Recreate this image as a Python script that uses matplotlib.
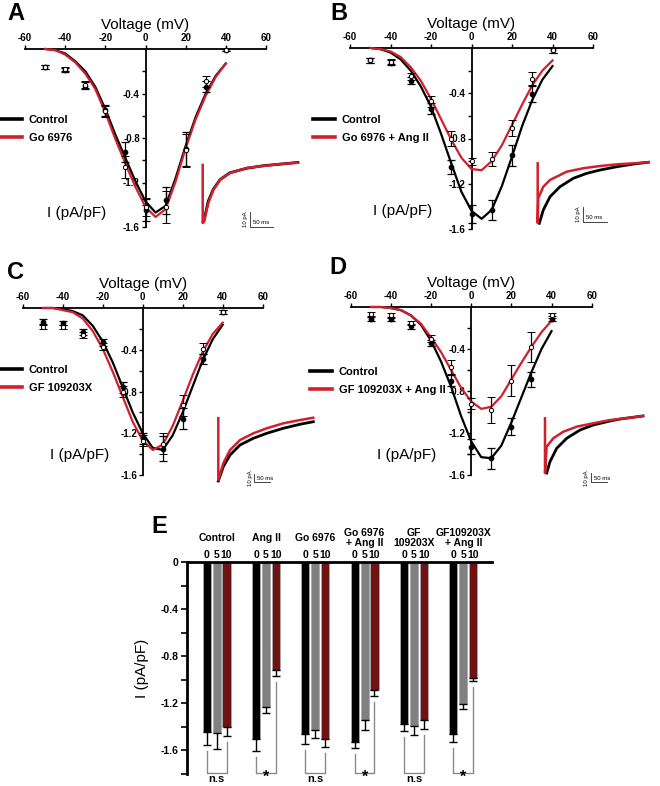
import matplotlib
matplotlib.use('Agg')
import matplotlib.pyplot as plt

plt.rcParams['font.family'] = ['Liberation Sans', 'DejaVu Sans']

# ---------------- data ----------------
V = [-50, -40, -30, -20, -10, 0, 10, 20, 30, 40]
VFIT = [-50, -45, -40, -35, -30, -25, -20, -15, -10, -5, 0, 5, 10, 15, 20, 25, 30, 35, 40]

# Panel A: Control vs Go 6976
A_ctrl = [-0.16, -0.19, -0.33, -0.55, -0.93, -1.45, -1.36, -0.90, -0.34, -0.01]
A_ctrl_err = [0.02, 0.02, 0.03, 0.05, 0.09, 0.10, 0.12, 0.15, 0.05, 0.01]
A_trt = [-0.16, -0.18, -0.32, -0.56, -1.06, -1.42, -1.42, -0.91, -0.29, -0.01]
A_trt_err = [0.02, 0.02, 0.03, 0.05, 0.10, 0.08, 0.14, 0.15, 0.05, 0.01]
A_fit_ctrl = [0.0, -0.01, -0.04, -0.11, -0.20, -0.34, -0.54, -0.77, -0.98, -1.19, -1.37, -1.47, -1.41, -1.16, -0.87, -0.61, -0.40, -0.24, -0.13]
A_fit_trt = [0.0, -0.01, -0.05, -0.12, -0.22, -0.36, -0.57, -0.81, -1.03, -1.24, -1.42, -1.51, -1.44, -1.19, -0.89, -0.63, -0.42, -0.25, -0.13]

# Panel B: Control vs Go 6976 + Ang II
B_ctrl = [-0.11, -0.13, -0.29, -0.535, -1.05, -1.47, -1.43, -0.95, -0.41, -0.02]
B_ctrl_err = [0.02, 0.02, 0.03, 0.05, 0.06, 0.08, 0.09, 0.09, 0.07, 0.02]
B_trt = [-0.11, -0.12, -0.25, -0.47, -0.80, -1.00, -0.98, -0.71, -0.27, -0.02]
B_trt_err = [0.02, 0.02, 0.03, 0.05, 0.07, 0.03, 0.065, 0.07, 0.06, 0.02]
B_fit_ctrl = [0.0, -0.01, -0.04, -0.10, -0.20, -0.34, -0.52, -0.76, -1.02, -1.27, -1.44, -1.51, -1.43, -1.22, -0.96, -0.69, -0.46, -0.28, -0.16]
B_fit_trt = [0.0, -0.01, -0.03, -0.08, -0.17, -0.29, -0.45, -0.63, -0.81, -0.97, -1.07, -1.08, -1.00, -0.86, -0.68, -0.50, -0.33, -0.20, -0.11]

# Panel C: Control vs GF 109203X
C_ctrl = [-0.13, -0.145, -0.23, -0.33, -0.76, -1.25, -1.35, -1.06, -0.49, -0.04]
C_ctrl_err = [0.02, 0.02, 0.03, 0.03, 0.05, 0.05, 0.12, 0.10, 0.05, 0.02]
C_trt = [-0.18, -0.18, -0.26, -0.37, -0.80, -1.27, -1.30, -0.93, -0.39, -0.04]
C_trt_err = [0.02, 0.02, 0.03, 0.03, 0.05, 0.05, 0.10, 0.10, 0.05, 0.02]
C_fit_ctrl = [0.0, 0.0, -0.01, -0.03, -0.07, -0.17, -0.32, -0.52, -0.76, -1.00, -1.20, -1.34, -1.36, -1.22, -1.00, -0.75, -0.50, -0.30, -0.16]
C_fit_trt = [0.0, 0.0, -0.02, -0.04, -0.10, -0.22, -0.39, -0.61, -0.85, -1.09, -1.27, -1.36, -1.31, -1.13, -0.89, -0.64, -0.42, -0.25, -0.14]

# Panel D: Control vs GF 109203X + Ang II
D_ctrl = [-0.115, -0.115, -0.185, -0.345, -0.70, -1.33, -1.44, -1.14, -0.69, -0.11]
D_ctrl_err = [0.02, 0.02, 0.02, 0.03, 0.05, 0.07, 0.10, 0.08, 0.07, 0.02]
D_trt = [-0.07, -0.08, -0.15, -0.30, -0.57, -0.92, -0.98, -0.70, -0.38, -0.08]
D_trt_err = [0.02, 0.02, 0.02, 0.03, 0.07, 0.05, 0.12, 0.15, 0.14, 0.02]
D_fit_ctrl = [0.0, 0.0, -0.01, -0.03, -0.08, -0.17, -0.32, -0.52, -0.76, -1.04, -1.28, -1.43, -1.44, -1.32, -1.10, -0.86, -0.62, -0.40, -0.23]
D_fit_trt = [0.0, 0.0, -0.01, -0.03, -0.08, -0.16, -0.29, -0.43, -0.60, -0.77, -0.90, -0.97, -0.95, -0.85, -0.69, -0.53, -0.38, -0.24, -0.13]

# Inset current traces (time ms, current pA)
A_tr_t_ctrl = [1, 3, 12, 23, 38, 59, 96, 132, 168, 207]
A_tr_i_ctrl = [-41, -40, -27.5, -19.5, -13, -8.5, -5.5, -3.8, -2.8, -1.6]
A_tr_t_trt = [0, 0, 2.8, 12.2, 23.0, 37.6, 59.3, 95.7, 131.7, 168.0, 207.2]
A_tr_i_trt = [-3.3, -42.0, -41.3, -28.7, -20.0, -13.3, -8.7, -5.3, -4.0, -2.7, -1.8]

B_tr_t_ctrl = [3.3, 11.7, 25.6, 46.5, 74.2, 102.1, 129.8, 164.6, 199.2, 230.4]
B_tr_i_ctrl = [-42.2, -33.3, -24.5, -17.8, -12.2, -8.9, -6.7, -4.5, -2.7, -1.5]
B_tr_t_trt = [0, 0, 1.3, 11.7, 25.6, 60.4, 95.0, 129.8, 164.6, 199.2, 230.4]
B_tr_i_trt = [-2.2, -42.0, -25.3, -17.8, -13.3, -7.8, -5.5, -4.0, -2.9, -2.2, -1.5]

C_tr_t_ctrl = [0, 15.6, 36.6, 67.8, 109.4, 151.3, 203.1, 255.3, 296.9]
C_tr_i_ctrl = [-85, -67.1, -52.5, -40, -31.6, -25.4, -19.1, -14.1, -10.9]
C_tr_t_trt = [0, 0, 15.6, 36.6, 67.8, 109.4, 151.3, 203.1, 255.3, 296.9]
C_tr_i_trt = [-6.6, -83.8, -62.9, -46.3, -33.8, -25.4, -19.1, -12.9, -8.8, -5.9]

D_tr_t_ctrl = [5.3, 15.6, 36.6, 67.8, 109.4, 150.9, 203.1, 234.4, 306.3]
D_tr_i_ctrl = [-66.7, -54.1, -39.2, -28.1, -18.9, -13.3, -8.9, -6.7, -3.3]
D_tr_t_trt = [0, 0, 5.3, 25.9, 57.2, 99.1, 150.9, 203.1, 234.4, 306.3]
D_tr_i_trt = [-5.9, -66.7, -37.4, -28.1, -20.8, -15.2, -11.4, -7.8, -6.7, -3.3]

# Panel E: bar chart
E_groups = ['Control', 'Ang II', 'Go 6976', 'Go 6976\n+ Ang II', 'GF\n109203X', 'GF109203X\n+ Ang II']
E_times = ['0', '5', '10']
E_t0 = [-1.444, -1.50, -1.464, -1.529, -1.379, -1.464]
E_t0_err = [0.108, 0.108, 0.079, 0.054, 0.060, 0.062]
E_t5 = [-1.45, -1.231, -1.43, -1.339, -1.393, -1.203]
E_t5_err = [0.14, 0.051, 0.068, 0.085, 0.079, 0.048]
E_t10 = [-1.40, -0.913, -1.50, -1.089, -1.339, -0.981]
E_t10_err = [0.077, 0.054, 0.070, 0.051, 0.077, 0.032]
E_sig = ['n.s', '*', 'n.s', '*', 'n.s', '*']

# ---------------- drawing ----------------
W, H = 660, 786
fig = plt.figure(figsize=(W / 100, H / 100), dpi=100)
RED = '#d0202e'
BOLD = dict(fontweight='bold')


def rect(l, t, r, b):
    return [l / W, 1 - b / H, (r - l) / W, (b - t) / H]


def noclip(container):
    for a in container.get_children():
        a.set_clip_on(False)


def iv_panel(box, ctrl, ctrl_err, trt, trt_err, fit_c, fit_t, labels, leg_xy, ylab_xy):
    ax = fig.add_axes(rect(*box))
    ax.patch.set_alpha(0)
    ax.set_xlim(-60, 60)
    ax.set_ylim(-1.6, 0)
    l1, = ax.plot(VFIT, fit_c, color='k', lw=1.6, zorder=3, clip_on=False)
    l2, = ax.plot(VFIT, fit_t, color=RED, lw=1.6, zorder=3, clip_on=False)
    e1 = ax.errorbar(V, ctrl, yerr=ctrl_err, fmt='o', ms=3.1, mfc='k', mec='k',
                     ecolor='k', elinewidth=0.9, capsize=2.6, capthick=0.9, zorder=4)
    e2 = ax.errorbar(V, trt, yerr=trt_err, fmt='o', ms=3.1, mfc='white', mec='k', mew=0.7,
                     ecolor='k', elinewidth=0.9, capsize=2.6, capthick=0.9, zorder=5)
    noclip(e1)
    noclip(e2)
    for s in ['bottom', 'right']:
        ax.spines[s].set_visible(False)
    ax.spines['left'].set_position(('data', 0))
    ax.spines['left'].set_linewidth(1.3)
    ax.spines['top'].set_linewidth(1.3)
    ax.xaxis.tick_top()
    ax.xaxis.set_label_position('top')
    xt = [-60, -40, -20, 0, 20, 40, 60]
    ax.set_xticks(xt)
    ax.set_xticklabels([str(v) for v in xt], fontsize=7, **BOLD)
    ax.set_yticks([-1.6, -1.2, -0.8, -0.4])
    ax.set_yticklabels(['-1.6', '-1.2', '-0.8', '-0.4'], fontsize=7, **BOLD)
    ax.set_yticks([-1.4, -1.0, -0.6, -0.2], minor=True)
    ax.tick_params(axis='y', which='both', direction='out', length=3, width=1, pad=1)
    ax.tick_params(axis='x', direction='out', length=3, width=1, pad=1,
                   top=True, bottom=False)
    ax.set_xlabel('Voltage (mV)', fontsize=11, labelpad=3)
    leg = ax.legend([l1, l2], labels, loc='upper left',
                    bbox_to_anchor=(leg_xy[0] / W, 1 - leg_xy[1] / H),
                    bbox_transform=fig.transFigure, frameon=False,
                    prop={'weight': 'bold', 'size': 8}, handlelength=2.0,
                    handletextpad=0.6, labelspacing=0.75, borderpad=0, borderaxespad=0)
    for h in leg.legend_handles:
        h.set_linewidth(2.6)
    fig.text(ylab_xy[0] / W, 1 - ylab_xy[1] / H, 'I (pA/pF)', fontsize=11,
             ha='center', va='center')
    return ax


def inset(box, x0, y0, pxms, pxpa, tc, ic, tt, it, sb):
    l, t, r, b = box
    ax = fig.add_axes(rect(l, t, r, b))
    ax.set_xlim((l - x0) / pxms, (r - x0) / pxms)
    ax.set_ylim(-(b - y0) / pxpa, -(t - y0) / pxpa)
    ax.axis('off')
    ax.plot(tc, ic, color='k', lw=2.0, solid_joinstyle='round')
    ax.plot(tt, it, color=RED, lw=1.8, solid_joinstyle='round')
    st, si = sb
    ax.plot([st, st, st + 50], [si + 10, si, si], color='#444444', lw=0.7)
    ax.text(st - 1.5 / pxms, si + 5, '10 pA', rotation=90, fontsize=4.3,
            ha='right', va='center')
    ax.text(st + 3 / pxms, si + 1.5 / pxpa, '50 ms', fontsize=4.3, ha='left', va='bottom')


# Panel A
iv_panel((25, 49, 266, 227), A_ctrl, A_ctrl_err, A_trt, A_trt_err, A_fit_ctrl, A_fit_trt,
         ['Control', 'Go 6976'], (0, 115), (77, 213))
inset((198, 150, 305, 232), 202.7, 160, 0.46, 1.5, A_tr_t_ctrl, A_tr_i_ctrl,
      A_tr_t_trt, A_tr_i_trt, (102.8, -44.5))
# Panel B
iv_panel((350, 48, 593, 229), B_ctrl, B_ctrl_err, B_trt, B_trt_err, B_fit_ctrl, B_fit_trt,
         ['Control', 'Go 6976 + Ang II'], (313, 115), (403, 211))
inset((533, 150, 655, 232), 537.7, 160, 0.48, 1.5, B_tr_t_ctrl, B_tr_i_ctrl,
      B_tr_t_trt, B_tr_i_trt, (93.75, -41.1))
# Panel C
iv_panel((22.7, 308, 262.7, 475), C_ctrl, C_ctrl_err, C_trt, C_trt_err, C_fit_ctrl, C_fit_trt,
         ['Control', 'GF 109203X'], (0, 365), (80, 455))
inset((214, 405, 322, 490), 218.3, 413, 0.32, 0.8, C_tr_t_ctrl, C_tr_i_ctrl,
      C_tr_t_trt, C_tr_i_trt, (111.6, -86.6))
# Panel D
iv_panel((350.7, 307, 591.7, 475), D_ctrl, D_ctrl_err, D_trt, D_trt_err, D_fit_ctrl, D_fit_trt,
         ['Control', 'GF 109203X + Ang II'], (310, 367), (407, 455))
inset((541, 405, 650, 490), 545, 413, 0.32, 0.9, D_tr_t_ctrl, D_tr_i_ctrl,
      D_tr_t_trt, D_tr_i_trt, (142.8, -77))

# Panel letters
for letter, (lx, ly) in zip('ABCDE', [(7, 2), (330, 2), (7, 261), (329, 256), (151, 515)]):
    fig.text(lx / W, 1 - ly / H, letter, fontsize=17, fontweight='bold', va='top', ha='left')

# Panel E
axE = fig.add_axes(rect(187, 562, 492, 774))
axE.patch.set_alpha(0)
axE.set_xlim(-0.602, 5.584)
axE.set_ylim(-1.8, 0)
off, bw = 0.2, 0.165
series = [(E_t0, E_t0_err, '#000000'), (E_t5, E_t5_err, '#808080'), (E_t10, E_t10_err, '#6e1212')]
for k, (vals, errs, col) in enumerate(series):
    xs = [i + (k - 1) * off for i in range(len(E_groups))]
    axE.bar(xs, vals, width=bw, color=col, edgecolor='#aaaaaa', linewidth=0.6, zorder=2)
    eb = axE.errorbar(xs, vals, yerr=[errs, [0] * len(errs)], fmt='none', ecolor='k',
                      elinewidth=1.0, capsize=3.2, capthick=1.0, zorder=3)
    noclip(eb)
    for x, lab in zip(xs, [E_times[k]] * len(xs)):
        axE.text(x, 0.06, lab, fontsize=7.5, ha='center', va='center', clip_on=False, **BOLD)
for i, g in enumerate(E_groups):
    axE.text(i, 0.2, g, fontsize=7.5, ha='center', va='center', linespacing=1.0,
             clip_on=False, **BOLD)
    xl, xr = i - off, i + off
    yl = E_t0[i] - E_t0_err[i] - 0.05
    yr = E_t10[i] - E_t10_err[i] - 0.05
    axE.plot([xl, xl, xr, xr], [yl, -1.79, -1.79, yr], color='#8a8a8a', lw=1.0,
             clip_on=False, zorder=1)
    if E_sig[i] == '*':
        axE.text(i, -1.892, '*', fontsize=11.5, ha='center', va='bottom', clip_on=False, **BOLD)
    else:
        axE.text(i, -1.84, E_sig[i], fontsize=8, ha='center', va='center', clip_on=False, **BOLD)
for s in ['bottom', 'right']:
    axE.spines[s].set_visible(False)
axE.spines['left'].set_linewidth(2)
axE.spines['top'].set_linewidth(2)
axE.set_xticks([])
axE.set_yticks([0, -0.4, -0.8, -1.2, -1.6])
axE.set_yticklabels(['0', '-0.4', '-0.8', '-1.2', '-1.6'], fontsize=7.5, **BOLD)
axE.set_yticks([-0.2, -0.6, -1.0, -1.4, -1.8], minor=True)
axE.tick_params(axis='y', which='both', direction='out', length=4, width=1.2, pad=2)
axE.tick_params(axis='x', which='both', top=False, bottom=False)
fig.text(142 / W, 1 - 668 / H, 'I (pA/pF)', fontsize=11, rotation=90, ha='center', va='center')

fig.savefig('out.png', dpi=100)
